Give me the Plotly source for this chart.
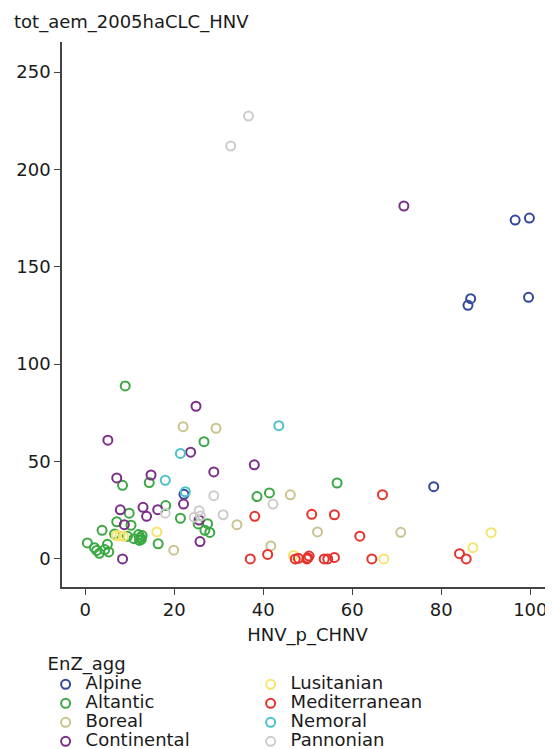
import plotly.graph_objects as go

# ------------------------------------------------------------
# data: HNV_p_CHNV (x) vs tot_aem_2005haCLC_HNV (y) per EnZ_agg
# ------------------------------------------------------------

alpine_x = [96.6, 99.8, 86.6, 86.0, 99.6, 78.3, 22.2]
alpine_y = [174.0, 175.0, 133.6, 130.2, 134.3, 37.1, 33.2]

altantic_x = [9.0, 26.7, 8.4, 14.4, 18.1, 9.9, 7.1, 10.3, 3.8, 6.6, 12.0, 12.4, 12.6,
              12.2, 12.8, 9.5, 11.0, 0.5, 2.1, 2.6, 3.2, 5.0, 5.3, 4.4, 16.4, 21.4,
              25.4, 27.5, 26.9, 28.0, 38.6, 41.4, 56.6]
altantic_y = [88.8, 60.2, 37.8, 39.2, 27.4, 23.5, 19.1, 17.3, 14.7, 12.8, 12.5, 11.0, 10.0,
              9.5, 12.0, 11.6, 10.4, 8.2, 5.8, 4.4, 2.9, 7.5, 3.6, 4.8, 7.8, 20.9,
              18.0, 18.1, 14.7, 13.6, 32.0, 33.9, 39.0]

boreal_x = [22.0, 29.4, 34.1, 19.9, 46.1, 52.2, 41.7, 70.9]
boreal_y = [67.9, 67.1, 17.6, 4.5, 32.9, 13.9, 6.7, 13.7]

continental_x = [71.6, 38.0, 24.9, 5.1, 23.7, 7.1, 14.8, 28.9, 7.9, 13.0, 13.8, 16.3,
                 22.1, 8.8, 25.8, 8.4, 25.6]
continental_y = [181.2, 48.3, 78.4, 61.0, 54.8, 41.6, 43.1, 44.7, 25.2, 26.5, 21.9, 25.3,
                 28.2, 17.6, 8.9, 0.0, 20.0]

lusitanian_x = [7.0, 7.8, 8.6, 16.1, 46.8, 67.1, 87.1, 91.2]
lusitanian_y = [12.0, 11.8, 11.6, 13.9, 1.8, 0.0, 5.8, 13.5]

mediterranean_x = [66.8, 38.1, 50.9, 56.0, 61.7, 37.1, 41.0, 47.2, 47.9, 49.8, 50.3, 50.0,
                   53.7, 54.5, 56.0, 64.4, 84.1, 85.6]
mediterranean_y = [33.0, 21.9, 22.9, 22.7, 11.7, 0.0, 2.3, 0.0, 0.3, 0.0, 1.5, 0.5,
                   0.0, 0.0, 0.8, 0.0, 2.7, 0.0]

nemoral_x = [43.5, 21.4, 18.0, 22.5]
nemoral_y = [68.4, 54.2, 40.4, 34.5]

pannonian_x = [36.7, 32.7, 42.2, 28.9, 18.0, 25.6, 24.5, 25.9, 31.0]
pannonian_y = [227.4, 212.0, 28.2, 32.5, 23.5, 24.8, 21.4, 22.1, 22.7]

groups = [
    ("Alpine", alpine_x, alpine_y, "#33489b"),
    ("Altantic", altantic_x, altantic_y, "#3ba843"),
    ("Boreal", boreal_x, boreal_y, "#c9c48f"),
    ("Continental", continental_x, continental_y, "#7b2f88"),
    ("Lusitanian", lusitanian_x, lusitanian_y, "#f6e46c"),
    ("Mediterranean", mediterranean_x, mediterranean_y, "#e6322c"),
    ("Nemoral", nemoral_x, nemoral_y, "#4dc1c9"),
    ("Pannonian", pannonian_x, pannonian_y, "#cccccc"),
]

# legend is filled row by row: reorder so it reads column by column
legend_rank = {"Alpine": 1, "Lusitanian": 2, "Altantic": 3, "Mediterranean": 4,
               "Boreal": 5, "Nemoral": 6, "Continental": 7, "Pannonian": 8}

FONT = "DejaVu Sans"

fig = go.Figure()

for name, xs, ys, c in groups:
    fig.add_trace(go.Scatter(
        x=xs,
        y=ys,
        mode="markers",
        # small legend font keeps the rows tight, the span brings the text back to 18px
        name=f'<span style="font-size:18px">{name}</span>',
        legendrank=legend_rank[name],
        marker=dict(symbol="circle-open", size=9, color=c, line=dict(width=2, color=c))
    ))

axis_style = dict(
    showgrid=False,
    zeroline=False,
    showline=True,
    linecolor="#444444",
    linewidth=1.5,
    ticks="outside",
    ticklen=6,
    tickwidth=1.2,
    tickcolor="#444444",
    tickfont=dict(family=FONT, size=18, color="#1a1a1a"),
    automargin=False,
)

fig.update_xaxes(range=[-5.2, 105.1], tickvals=[0, 20, 40, 60, 80, 100],
                 title=dict(text="HNV_p_CHNV", font=dict(family=FONT, size=18, color="#1a1a1a"),
                            standoff=10),
                 **axis_style)
fig.update_yaxes(range=[-14.4, 265.4], tickvals=[0, 50, 100, 150, 200, 250], **axis_style)

fig.add_annotation(
    text="tot_aem_2005haCLC_HNV", xref="paper", yref="paper",
    x=-0.102, y=1.037, xanchor="left", yanchor="middle", showarrow=False,
    font=dict(family=FONT, size=18, color="#1a1a1a")
)

# the page adds an 8px body margin, so the figure is 8px smaller than the window
fig.update_layout(
    width=545,
    height=741,
    template="simple_white",
    plot_bgcolor="white",
    paper_bgcolor="white",
    margin=dict(l=54, r=0, t=34, b=162, autoexpand=False),
    font=dict(family=FONT, size=18, color="#1a1a1a"),
    legend=dict(
        title=dict(text="EnZ_agg", side="top", font=dict(family=FONT, size=18)),
        orientation="h",
        entrywidth=160,
        entrywidthmode="pixels",
        itemwidth=30,
        xref="container",
        yref="container",
        x=0.069,
        xanchor="left",
        y=0.1385,
        yanchor="top",
        font=dict(family=FONT, size=12),
        tracegroupgap=0,
    ),
)

fig.write_html("out.html")
